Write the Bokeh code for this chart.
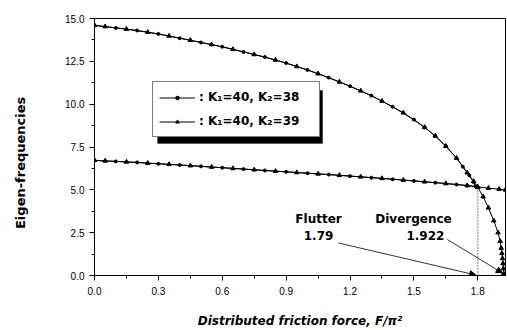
import numpy as np
from bokeh.plotting import figure
from bokeh.models import (FixedTicker, PrintfTickFormatter, Legend, LegendItem,
                          BoxAnnotation, Arrow, NormalHead, Label, Range1d)
from bokeh.embed import file_html
from bokeh.resources import INLINE

# K1=40, K2=38 (flutter at 1.79)
k38_x_up = [0.0, 0.1, 0.2, 0.3, 0.4, 0.5, 0.6, 0.7, 0.8, 0.9, 1.0, 1.1, 1.2, 1.3,
            1.4, 1.5, 1.55, 1.6, 1.65, 1.7, 1.73, 1.76, 1.78, 1.79]
k38_y_up = [14.6, 14.45, 14.3, 14.1, 13.85, 13.6, 13.35, 13.05, 12.75, 12.4, 12.0,
            11.55, 11.05, 10.5, 9.85, 9.1, 8.65, 8.15, 7.55, 6.85, 6.35, 5.85, 5.45, 5.2]
k38_x_lo = [0.0, 0.1, 0.2, 0.3, 0.4, 0.5, 0.6, 0.7, 0.8, 0.9, 1.0, 1.1, 1.2, 1.3,
            1.4, 1.5, 1.6, 1.7, 1.75, 1.79]
k38_y_lo = [6.72, 6.66, 6.6, 6.52, 6.45, 6.37, 6.29, 6.21, 6.13, 6.05, 5.97, 5.89,
            5.8, 5.71, 5.62, 5.52, 5.42, 5.31, 5.25, 5.2]

# K1=40, K2=39 (divergence at 1.922)
k39_x_up = [0.0, 0.05, 0.15, 0.25, 0.35, 0.45, 0.55, 0.65, 0.75, 0.85, 0.95, 1.05,
            1.15, 1.25, 1.35, 1.45, 1.55, 1.6, 1.65, 1.7, 1.75, 1.78, 1.8, 1.825,
            1.85, 1.875, 1.895, 1.905, 1.91, 1.913, 1.916, 1.918, 1.92, 1.922]
k39_y_up = [14.6, 14.53, 14.38, 14.2, 13.98, 13.73, 13.48, 13.2, 12.9, 12.58, 12.2,
            11.78, 11.3, 10.78, 10.18, 9.5, 8.65, 8.15, 7.55, 6.85, 6.0, 5.5, 5.15,
            4.6, 3.95, 3.2, 2.5, 2.0, 1.6, 1.3, 1.0, 0.7, 0.4, 0.1]
k39_x_lo = [0.0, 0.05, 0.15, 0.25, 0.35, 0.45, 0.55, 0.65, 0.75, 0.85, 0.95, 1.05,
            1.15, 1.25, 1.35, 1.45, 1.55, 1.65, 1.75, 1.8, 1.85, 1.9, 1.93]
k39_y_lo = [6.72, 6.69, 6.63, 6.56, 6.49, 6.41, 6.33, 6.25, 6.17, 6.09, 6.01, 5.93,
            5.85, 5.76, 5.67, 5.57, 5.47, 5.37, 5.25, 5.17, 5.1, 5.04, 5.0]

x_ticks = [0.0, 0.3, 0.6, 0.9, 1.2, 1.5, 1.8]
y_ticks = [0.0, 2.5, 5.0, 7.5, 10.0, 12.5, 15.0]
x_minor = [0.15, 0.45, 0.75, 1.05, 1.35, 1.65]
y_minor = [1.25, 3.75, 6.25, 8.75, 11.25, 13.75]

flutter_x = 1.79
divergence_x = 1.922
coalesce_y = 5.15

FONT = "Liberation Sans"
FONT2 = "DejaVu Sans"

p = figure(width=507, height=330, output_backend="svg", toolbar_location=None,
           x_range=Range1d(0, 1.93), y_range=Range1d(0, 15),
           min_border_left=94, min_border_right=2, min_border_top=18,
           min_border_bottom=55)
p.background_fill_color = "white"
p.border_fill_color = "white"
p.outline_line_color = "black"
p.outline_line_width = 1
p.grid.visible = False

p.xaxis.ticker = FixedTicker(ticks=x_ticks, minor_ticks=x_minor)
p.yaxis.ticker = FixedTicker(ticks=y_ticks, minor_ticks=y_minor)
p.xaxis.formatter = PrintfTickFormatter(format="%.1f")
p.yaxis.formatter = PrintfTickFormatter(format="%.1f")
for ax in (p.xaxis, p.yaxis):
    ax.axis_line_color = "black"
    ax.major_tick_line_color = "black"
    ax.minor_tick_line_color = "black"
    ax.major_tick_out = 5
    ax.major_tick_in = 0
    ax.minor_tick_out = 3
    ax.minor_tick_in = 0
    ax.major_label_text_font = FONT
    ax.major_label_text_font_size = "10px"
    ax.major_label_text_color = "black"
    ax.axis_label_text_font = FONT2
    ax.axis_label_text_font_style = "bold"
    ax.axis_label_text_color = "black"
p.xaxis.major_label_standoff = 6
p.yaxis.major_label_standoff = 5
p.xaxis.axis_label = "Distributed friction force, F/\u03c0\u00b2"
p.xaxis.axis_label_text_font_style = "bold italic"
p.xaxis.axis_label_text_font_size = "12px"
p.xaxis.axis_label_standoff = 16

# y axis title; trailing no-break spaces shift it slightly below frame centre
p.yaxis.axis_label = "Eigen-frequencies" + "\u00a0" * 7
p.yaxis.axis_label_text_font_size = "13px"
p.yaxis.axis_label_standoff = 34

# curves
l38a = p.line(k38_x_up, k38_y_up, line_color="black", line_width=1)
s38a = p.scatter(k38_x_up, k38_y_up, marker="circle", size=3, color="black")
p.line(k38_x_lo, k38_y_lo, line_color="black", line_width=1)
p.scatter(k38_x_lo, k38_y_lo, marker="circle", size=3, color="black")

l39a = p.line(k39_x_up, k39_y_up, line_color="black", line_width=1)
s39a = p.scatter(k39_x_up, k39_y_up, marker="triangle", size=4.5, color="black")
p.line(k39_x_lo, k39_y_lo, line_color="black", line_width=1)
p.scatter(k39_x_lo, k39_y_lo, marker="triangle", size=4.5, color="black")

# dotted vertical line at coalescence
p.line([1.8, 1.8], [0, coalesce_y], line_color="black", line_width=1,
       line_dash="1 2")

# annotations
for txt, x, y in [("Flutter", 1.052, 3.31), ("1.79", 1.052, 2.33),
                  ("Divergence", 1.498, 3.31), ("1.922", 1.554, 2.33)]:
    p.add_layout(Label(x=x, y=y, text=txt, text_font=FONT2, text_font_size="12px",
                       text_font_style="bold", text_align="center",
                       text_baseline="middle", text_color="black"))

p.add_layout(Arrow(x_start=1.145, y_start=1.9, x_end=flutter_x, y_end=0.03,
                   line_color="black", line_width=0.8,
                   end=NormalHead(size=6, fill_color="black", line_color="black")))
p.add_layout(Arrow(x_start=1.657, y_start=2.1, x_end=1.915, y_end=0.15,
                   line_color="black", line_width=0.8,
                   end=NormalHead(size=6, fill_color="black", line_color="black")))

# legend shadow
p.add_layout(BoxAnnotation(left=0.296, right=1.071, bottom=7.71, top=10.8,
                           fill_color="black", fill_alpha=1.0, line_color="black"))

legend = Legend(items=[
    LegendItem(label=": K\u2081=40, K\u2082=38", renderers=[l38a, s38a]),
    LegendItem(label=": K\u2081=40, K\u2082=39", renderers=[l39a, s39a]),
], location=(58, 138), margin=0, padding=6, spacing=6,
    glyph_width=36, glyph_height=9, label_height=18, label_width=114,
    label_standoff=4,
    label_text_font=FONT2, label_text_font_style="bold",
    label_text_font_size="12px", label_text_color="black",
    border_line_color="black", border_line_width=1,
    background_fill_color="white", background_fill_alpha=1.0)
p.add_layout(legend, "center")

open("out.html", "w").write(file_html(p, INLINE))
